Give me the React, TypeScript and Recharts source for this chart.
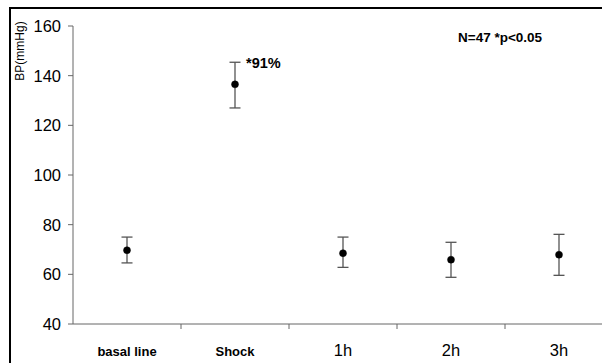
import React from "react";
import { ComposedChart, Line, XAxis, YAxis, ErrorBar, LabelList } from "recharts";

const CATS = ["basal line", "Shock", "1h", "2h", "3h"];
const BOLD_CATS = ["basal line", "Shock"];
const BP = [69.7, 136.5, 68.5, 65.9, 67.9];
// [below, above] the mean
const ERR_LOW = [5.1, 9.5, 5.7, 7.1, 8.3];
const ERR_HIGH = [5.3, 8.9, 6.5, 7.0, 8.2];
const NOTES = ["", "*91%", "", "", ""];
const Y_TICKS = [40, 60, 80, 100, 120, 140, 160];

const rows = CATS.map((name, i) => ({
  name,
  bp: BP[i],
  err: [ERR_LOW[i], ERR_HIGH[i]],
  note: NOTES[i] || undefined,
}));

const FONT = "'Liberation Sans', Arial, sans-serif";
const AXIS = "#666";
const W = 602;
const H = 363;
const PLOT_LEFT = 73;
const PLOT_RIGHT = 613; // plot runs past the picture's right edge
const HALF_BAND = (PLOT_RIGHT - PLOT_LEFT) / CATS.length / 2;

function CatTick(props: any) {
  const { x, y, payload } = props;
  const bold = BOLD_CATS.includes(payload.value);
  return (
    <g>
      <line x1={x + HALF_BAND} x2={x + HALF_BAND} y1={y} y2={y + 5} stroke={AXIS} />
      <text
        x={x}
        y={y + 32}
        textAnchor="middle"
        fontFamily={FONT}
        fontSize={bold ? 13 : 16.5}
        fontWeight={bold ? 700 : 400}
        fill="#000"
      >
        {payload.value}
      </text>
    </g>
  );
}

function NoteLabel(props: any) {
  const { x, y, value } = props;
  if (!value) return null;
  return (
    <text x={x + 11} y={y - 16.5} fontFamily={FONT} fontSize={14.5} fontWeight={700} fill="#000">
      {value}
    </text>
  );
}

export default function App() {
  return (
    <div style={{ position: "fixed", left: 0, top: 0, width: W, height: H, overflow: "hidden", background: "#fff" }}>
      <style>{"html,body{margin:0;overflow:hidden}"}</style>
      <div style={{ position: "absolute", left: 0, top: 0 }}>
        <ComposedChart width={W} height={H} data={rows} margin={{ top: 26, right: W - PLOT_RIGHT, bottom: 9, left: 0 }}>
          <XAxis
            dataKey="name"
            padding={{ left: HALF_BAND, right: HALF_BAND }}
            height={30}
            tickSize={0}
            tickMargin={0}
            tickLine={false}
            axisLine={{ stroke: AXIS }}
            tick={<CatTick />}
            interval={0}
          />
          <YAxis
            domain={[40, 160]}
            ticks={Y_TICKS}
            width={PLOT_LEFT}
            tickSize={5}
            tickMargin={7}
            axisLine={{ stroke: AXIS }}
            tickLine={{ stroke: AXIS }}
            tick={{ fill: "#000", fontSize: 16.5, fontFamily: FONT }}
            interval={0}
          />
          <Line
            dataKey="bp"
            stroke="none"
            dot={{ r: 3.5, fill: "#000", stroke: "#000", strokeWidth: 0.5 }}
            activeDot={false}
            isAnimationActive={false}
          >
            <ErrorBar dataKey="err" direction="y" width={5.5} stroke="#555" strokeWidth={1.3} />
            <LabelList dataKey="note" content={<NoteLabel />} />
          </Line>
        </ComposedChart>
      </div>
      <svg width={W} height={H} style={{ position: "absolute", left: 0, top: 0, pointerEvents: "none" }}>
        {/* outer frame: only the left and top edges fall inside the picture */}
        <path d={`M10 ${H} V8 H${W}`} fill="none" stroke="#000" strokeWidth={2} />
        <text
          x={20}
          y={51}
          transform="rotate(-90 20 51)"
          textAnchor="middle"
          dominantBaseline="central"
          fontFamily={FONT}
          fontSize={12}
          fill="#000"
        >
          BP(mmHg)
        </text>
        <text x={458} y={42} fontFamily={FONT} fontSize={13.5} fontWeight={700} fill="#000">
          N=47 *p&lt;0.05
        </text>
      </svg>
    </div>
  );
}
